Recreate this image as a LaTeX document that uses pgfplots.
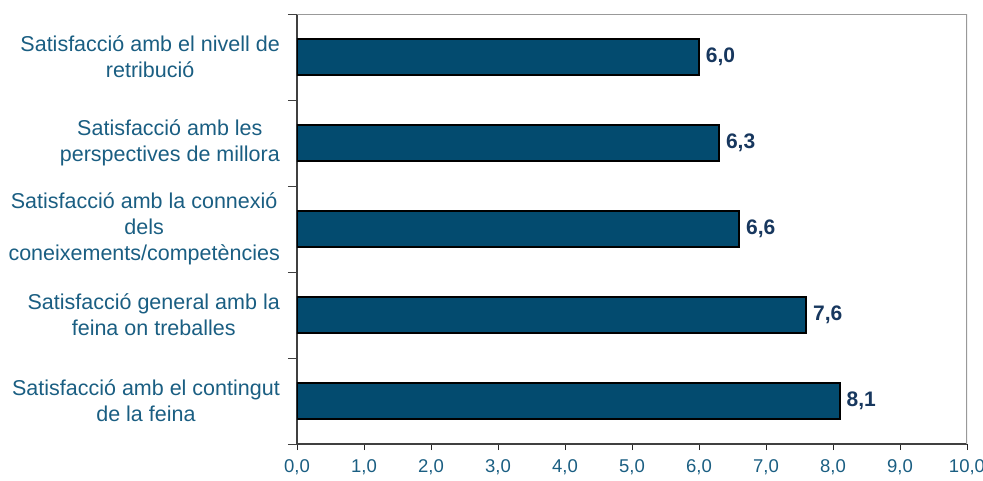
\documentclass[border=0pt]{standalone}
\usepackage{pgfplots}
\pgfplotsset{compat=1.18}
\usepackage{fontspec}
\setmainfont{Liberation Sans}
\definecolor{barfill}{HTML}{034B6F}
\definecolor{labtxt}{HTML}{1A5E82}
\definecolor{valtxt}{HTML}{17375E}
\begin{document}
\begin{tikzpicture}
\useasboundingbox (-297pt,-36pt) rectangle (686pt,444pt);
\begin{axis}[
  at={(0,0)}, anchor=south west,
  scale only axis, width=670pt, height=430pt,
  xbar, bar width=0.41,
  xmin=0, xmax=10, ymin=-0.5, ymax=4.5,
  axis x line*=bottom, axis y line*=left,
  axis line style={-, draw=black!75, line width=1.2pt},
  xtick={0,...,10},
  ytick={0,...,4},
  yticklabels={{Satisfacció amb el contingut\\de la feina},
               {Satisfacció general amb la\\feina on treballes},
               {Satisfacció amb la connexió\\dels\\coneixements/competències},
               {Satisfacció amb les\\perspectives de millora},
               {Satisfacció amb el nivell de\\retribució}},
  minor ytick={-0.5,0.5,...,4.5},
  tick align=outside,
  major tick length=6pt, minor tick length=9pt,
  major y tick style={draw=none},
  minor y tick style={draw=black!75, line width=0.8pt},
  major x tick style={draw=black!85, line width=0.8pt},
  yticklabel style={align=center, font=\fontsize{21.5}{26}\selectfont, text=labtxt, inner sep=0pt, anchor=east, xshift=-11pt},
  xticklabel style={font=\fontsize{18.5}{22}\selectfont, text=labtxt, yshift=-6pt},
  /pgf/number format/.cd, fixed, fixed zerofill, precision=1, use comma, assume math mode=true,
  /pgfplots/.cd,
  nodes near coords,
  every node near coord/.append style={font=\bfseries\fontsize{21}{25}\selectfont, text=valtxt, inner sep=0pt, anchor=west, xshift=6pt},
]
\addplot[fill=barfill, draw=black, line width=1.8pt] coordinates {(8.1,0) (7.6,1) (6.6,2) (6.3,3) (6.0,4)};
\draw[black!40, line width=1.2pt] (rel axis cs:0,1) -- (rel axis cs:1,1) -- (rel axis cs:1,0);
\end{axis}
\end{tikzpicture}
\end{document}
